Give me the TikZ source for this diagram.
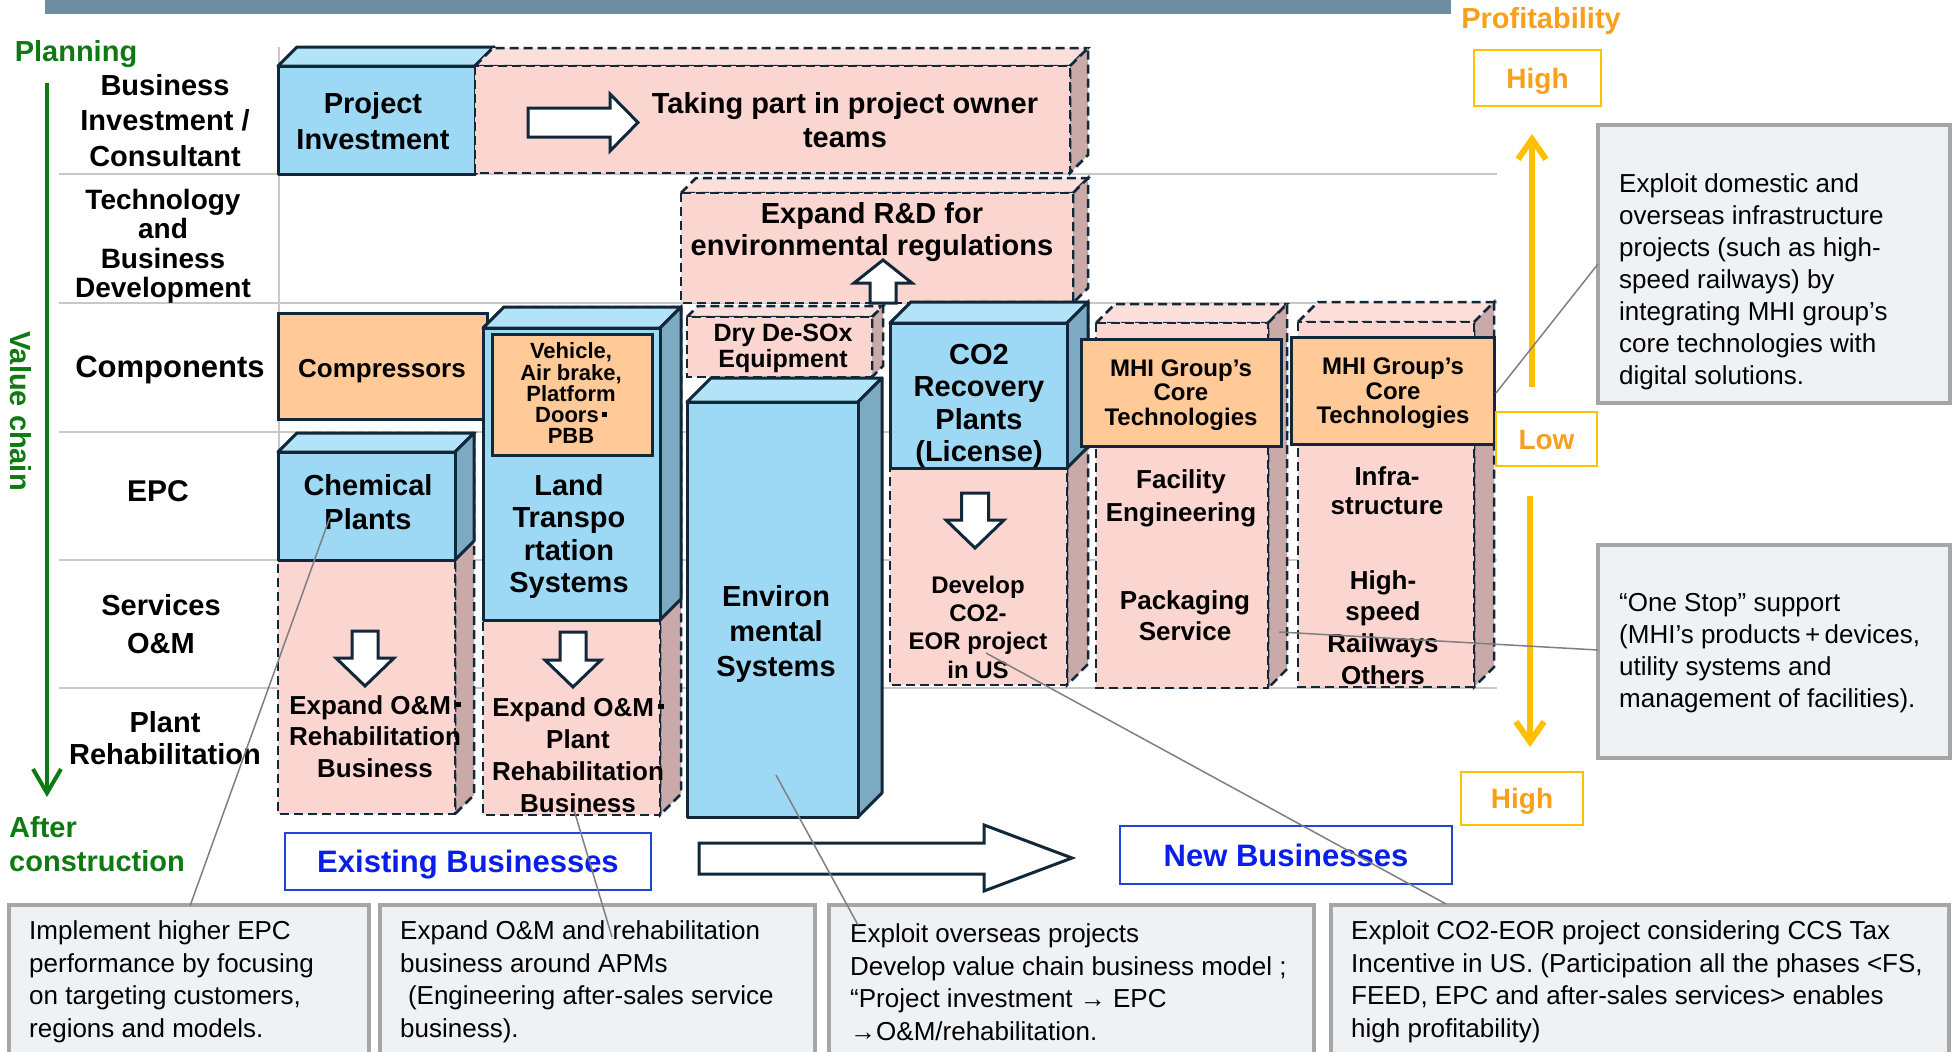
\documentclass[tikz,border=0pt]{standalone}
\usepackage{fontspec}
\setmainfont{Liberation Sans}
\usetikzlibrary{arrows.meta}
\definecolor{cubeblue}{HTML}{9DD9F5}
\definecolor{cubebluetop}{HTML}{B2E3F9}
\definecolor{cubeblueside}{HTML}{7DAAC3}
\definecolor{cubepink}{HTML}{FBD5D0}
\definecolor{cubepinktop}{HTML}{FCDFDB}
\definecolor{cubepinkside}{HTML}{C9AAA8}
\definecolor{orangefill}{HTML}{FFCA97}
\definecolor{navy}{HTML}{10283A}
\definecolor{vcgreen}{HTML}{0F7A12}
\definecolor{profit}{HTML}{F6A01C}
\definecolor{profyel}{HTML}{FFC000}
\definecolor{callfill}{HTML}{EEF2F5}
\definecolor{callline}{HTML}{A6A6A6}
\definecolor{rowline}{HTML}{C8C8C8}
\definecolor{titlebar}{HTML}{6E8DA1}
\definecolor{bizblue}{HTML}{0A1EEB}
\definecolor{bizframe}{HTML}{1F45D6}
\definecolor{leader}{HTML}{7F7F7F}
\newcommand\mycube[6]{%
 \path[#6top] (#1,#2) -- ({#1+#5},{#2-#5}) -- ({#3+#5},{#2-#5}) -- (#3,#2) -- cycle;
 \path[#6side] (#3,#2) -- ({#3+#5},{#2-#5}) -- ({#3+#5},{#4-#5}) -- (#3,#4) -- cycle;
 \path[#6front] (#1,#2) rectangle (#3,#4);}
\newcommand\blockarr[6]{%
 \path[blockarrow] ({#1-#5},#2) -- ({#1+#5},#2) -- ({#1+#5},#3) -- ({#1+#6},#3) -- (#1,#4) -- ({#1-#6},#3) -- ({#1-#5},#3) -- cycle;}
\newcommand\sqdot{\,\rule[0.28em]{0.2em}{0.2em}}
\begin{document}
\begin{tikzpicture}[x=1pt,y=-1pt,
 bluefront/.style={fill=cubeblue,draw=navy,line width=3pt,line join=round},
 bluetop/.style={fill=cubebluetop,draw=navy,line width=3pt,line join=round},
 blueside/.style={fill=cubeblueside,draw=navy,line width=3pt,line join=round},
 pinkfront/.style={fill=cubepink,draw=navy,line width=2.5pt,dash pattern=on 9pt off 5pt},
 pinktop/.style={fill=cubepinktop,draw=navy,line width=2.5pt,dash pattern=on 9pt off 5pt},
 pinkside/.style={fill=cubepinkside,draw=navy,line width=2.5pt,dash pattern=on 9pt off 5pt},
 orangebox/.style={fill=orangefill,draw=navy,line width=3pt},
 blockarrow/.style={fill=white,draw=navy,line width=3pt,line join=miter},
 t/.style n args={2}{inner sep=0pt,align=center,font=\bfseries\fontsize{#1}{#2}\selectfont},
 body/.style n args={2}{inner sep=0pt,align=left,anchor=west,font=\fontsize{#1}{#2}\selectfont},
 rowsep/.style={draw=rowline,line width=2.5pt},
 callout/.style={draw=callline,fill=callfill,line width=3.5pt},
 leaderline/.style={draw=leader,line width=1.5pt},
 profbox/.style={draw=profyel,line width=2.5pt,inner sep=0pt,text=profit,text height=20pt,text depth=0pt,font=\bfseries\fontsize{28}{32}\selectfont},
 bizbox/.style={draw=bizframe,line width=2pt,inner sep=0pt,text=bizblue,text height=22pt,text depth=0pt,font=\bfseries\fontsize{31}{36}\selectfont},
 profarrow/.style={draw=profyel,line width=6pt,-{Straight Barb[length=20pt,width=28pt]}}
]
\useasboundingbox (0,0) rectangle (1955,1052);
% title bar
\fill[titlebar] (45,-5) rectangle (1451,14);
% grid lines
\foreach \yy in {174,303,432,560,688} \draw[rowsep] (59,\yy) -- (1497,\yy);
\draw[rowsep] (279,47) -- (279,688);
% value chain arrow
\coordinate (vcTop) at (47,83);
\coordinate (vcEnd) at (47,797);
\draw[vcgreen,line width=4pt,-{Straight Barb[length=24pt,width=28pt]}] (vcTop) -- (vcEnd);
\node[t={29}{34},text=vcgreen] (planning) at (76,54.5) {Planning};
\node[t={29}{34},text=vcgreen,align=left,anchor=west] (after) at (9,844) {After\\construction};
\node[t={29}{34},text=vcgreen,rotate=-90] (vchain) at (21,411) {Value chain};
% row labels
\node[t={29}{35.5}] (rowBI) at (165,120.5) {Business\\Investment /\\Consultant};
\node[t={28}{29.5}] (rowTech) at (163,246.5) {Technology\\and\\Business\\Development};
\node[t={31}{35}] (rowComp) at (170,370) {Components};
\node[t={30}{35}] (rowEPC) at (158,491) {EPC};
\node[t={29}{38}] (rowServ) at (161,624) {Services\\O\&M};
\node[t={29}{32}] (rowPlant) at (165,738) {Plant\\Rehabilitation};
% cubes
\mycube{278}{66}{475}{174}{19}{blue}
\mycube{475}{66}{1070}{173}{18}{pink}
\mycube{681}{193}{1073}{303}{15}{pink}
\path[orangebox] (278,313) rectangle (487,419);
\mycube{278}{452}{455}{814}{19}{pink}
\mycube{278}{452}{455}{560}{19}{blue}
\mycube{483}{328}{660}{815}{21}{pink}
\mycube{483}{328}{660}{620}{21}{blue}
\path[orangebox] (492,334) rectangle (652,455);
\mycube{687}{317}{872}{377}{11}{pink}
\mycube{687}{402}{858}{817}{24}{blue}
\mycube{890}{323}{1067}{685}{21}{pink}
\mycube{890}{323}{1067}{468}{21}{blue}
\mycube{1096}{323}{1268}{688}{19}{pink}
\path[orangebox] (1081,339) rectangle (1281,446);
\mycube{1298}{322}{1474}{687}{20}{pink}
\path[orangebox] (1291,337) rectangle (1494,444);
% block arrows
\path[blockarrow] (528,108) -- (610,108) -- (610,94) -- (638,122.5) -- (610,151) -- (610,137) -- (528,137) -- cycle;
\blockarr{883}{303}{283}{260}{13}{29}
\blockarr{365}{631}{658}{686}{13}{29}
\blockarr{573}{632}{660}{687}{13}{28}
\blockarr{975}{493}{520}{548}{13.5}{29}
\path[blockarrow] (699,843) -- (984,843) -- (984,825) -- (1072,858) -- (984,891) -- (984,874) -- (699,874) -- cycle;
% box texts
\node[t={29}{36}] (projinv) at (373,121) {Project\\Investment};
\node[t={29}{34}] (taking) at (845,120) {Taking part in project owner\\teams};
\node[t={29}{32}] (rnd) at (872,232) {Expand R\&D for\\environmental regulations};
\node[t={25}{26}] (dry) at (783,348) {Dry De-SOx\\Equipment};
\node[t={26}{30}] (compr) at (382,371) {Compressors};
\node[t={22}{21.25}] (vehicle) at (571,393.5) {Vehicle,\\Air brake,\\Platform\\Doors\sqdot\\PBB};
\node[t={29}{32.3}] (land) at (569,536.5) {Land\\Transpo\\rtation\\Systems};
\node[t={29}{34}] (chem) at (368,502) {Chemical\\Plants};
\node[t={26}{31.5}] (chemom) at (375,736.5) {Expand O\&M\sqdot\\Rehabilitation\\Business};
\node[t={26}{32}] (landom) at (578,755) {Expand O\&M\sqdot\\Plant\\Rehabilitation\\Business};
\node[t={29}{35}] (env) at (776,634) {Environ\\mental\\Systems};
\node[t={29}{32.3}] (co2) at (979,406) {CO2\\Recovery\\Plants\\(License)};
\node[t={24}{28.3}] (eor) at (978,627) {Develop\\CO2-\\EOR project\\in US};
\node[t={24}{24.5}] (mhiA) at (1181,395) {MHI Group’s\\Core\\Technologies};
\node[t={24}{24.5}] (mhiB) at (1393,393.5) {MHI Group’s\\Core\\Technologies};
\node[t={26}{33}] (facil) at (1181,498.5) {Facility\\Engineering};
\node[t={26}{31}] (pack) at (1185,615.5) {Packaging\\Service};
\node[t={26}{29}] (infra) at (1387,491) {Infra-\\structure};
\node[t={26}{31.7}] (hsr) at (1383,627.5) {High-\\speed\\Railways\\Others};
% business labels
\node[bizbox,minimum width=366pt,minimum height=57pt] (existing) at (468,861.5) {Existing Businesses};
\node[bizbox,minimum width=332pt,minimum height=58pt] (newbiz) at (1286,855) {New Businesses};
% profitability
\node[t={29}{34},text=profit] (profit) at (1541,21.5) {Profitability};
\node[profbox,minimum width=127pt,minimum height=56pt] (highA) at (1537.5,78) {High};
\node[profbox,minimum width=101pt,minimum height=54pt] (low) at (1546.5,439) {Low};
\node[profbox,minimum width=122pt,minimum height=53pt] (highB) at (1522,798.5) {High};
\coordinate (upS) at (1532,387);
\coordinate (upE) at (1532,134);
\coordinate (dnS) at (1530,496);
\coordinate (dnE) at (1530,747);
\draw[profarrow] (upS) -- (upE);
\draw[profarrow] (dnS) -- (dnE);
% callouts
\path[callout] (1598,125) rectangle (1950,403);
\path[callout] (1598,545) rectangle (1950,758);
\path[callout] (9,905) rectangle (369,1062);
\path[callout] (380,905) rectangle (815,1062);
\path[callout] (829,905) rectangle (1314,1062);
\path[callout] (1331,905) rectangle (1949,1062);
\node[body={26}{32}] (cR1) at (1619,282) {Exploit domestic and\\overseas infrastructure\\projects (such as high-\\speed railways) by\\integrating MHI group’s\\core technologies with\\digital solutions.};
\node[body={26}{32}] (cR2) at (1619,653) {“One Stop” support\\(MHI’s products\,+\,devices,\\utility systems and\\management of facilities).};
\node[body={26}{32.5}] (cA) at (29,982) {Implement higher EPC\\performance by focusing\\on targeting customers,\\regions and models.};
\node[body={26}{32.5}] (cB) at (400,982) {Expand O\&M and rehabilitation\\business around APMs\\\hspace*{0.3em}(Engineering after-sales service\\business).};
\node[body={26}{32.5}] (cC) at (850,982) {Exploit overseas projects\\Develop value chain business model ;\\“Project investment → EPC\\→O\&M/rehabilitation.};
\node[body={26}{32.5}] (cD) at (1351,982) {Exploit CO2-EOR project considering CCS Tax\\Incentive in US. (Participation all the phases <FS,\\FEED, EPC and after-sales services> enables\\high profitability)};
% leader lines
\coordinate (lR1a) at (1598,264);
\coordinate (lR1b) at (1496,393);
\coordinate (lR2a) at (1598,650);
\coordinate (lR2b) at (1279,632);
\coordinate (lAa) at (190,906);
\coordinate (lAb) at (330,517);
\coordinate (lBa) at (612,937);
\coordinate (lBb) at (574,810);
\coordinate (lCa) at (858,925);
\coordinate (lCb) at (776,775);
\coordinate (lDa) at (1446,904);
\coordinate (lDb) at (986,653);
\draw[leaderline] (lR1a) -- (lR1b);
\draw[leaderline] (lR2a) -- (lR2b);
\draw[leaderline] (lAa) -- (lAb);
\draw[leaderline] (lBa) -- (lBb);
\draw[leaderline] (lCa) -- (lCb);
\draw[leaderline] (lDa) -- (lDb);
\end{tikzpicture}
\end{document}
